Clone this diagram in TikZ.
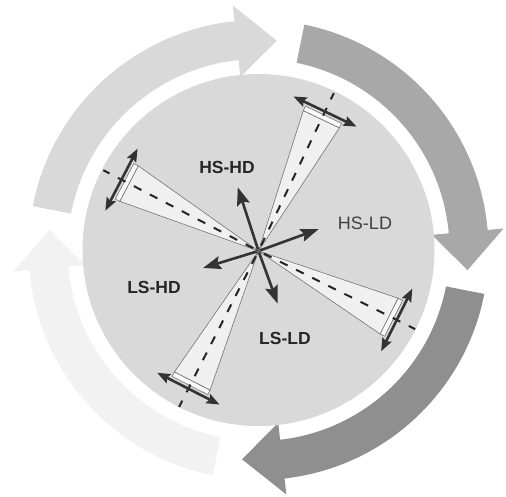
\documentclass[tikz,border=0pt]{standalone}
\usepackage{fontspec}
\setmainfont{Liberation Sans}
\usetikzlibrary{arrows.meta,calc}
\begin{document}
\begin{tikzpicture}[x=1pt,y=1pt,
  cone/.style={fill=black!6, draw=black!55, line width=0.6pt},
  capstrip/.style={fill=black!2, draw=black!55, line width=0.6pt},
  axisdash/.style={draw=black!85, line width=2pt, dash pattern=on 8.5pt off 9.5pt},
  dblarrow/.style={draw=black!80, line width=2.6pt, {Stealth[length=13pt,width=10pt,inset=2pt]}-{Stealth[length=13pt,width=10pt,inset=2pt]}},
  vec/.style={draw=black!80, line width=2.6pt, -{Stealth[length=18pt,width=13pt,inset=3pt]}},
  lab/.style={font=\bfseries\fontsize{17.5}{20}\selectfont, text=black!85},
  labreg/.style={font=\fontsize{18}{20}\selectfont, text=black!75}
]
\useasboundingbox[fill=white] (-258.5,-247) rectangle (247.5,250);

% outer ring of four curved arrows (clockwise)
\foreach \ta/\ba/\pa/\col in {169/96/85/black!15, 78.5/5/-5.5/black!34, -11/-83.5/-94.5/black!44, -101.5/-175/-185.5/black!5}{
  \fill[\col] (\ta:230) arc[start angle=\ta, end angle=\ba, radius=230]
    -- (\ba:246) -- (\pa:210) -- (\ba:174) -- (\ba:191)
    arc[start angle=\ba, end angle=\ta, radius=191] -- cycle;
}

% central disk
\fill[black!15] (0,0) circle[radius=176];

\coordinate (O) at (0,-1);

% four cones with dashed axes and double arrows
\foreach \t in {64.5,152.5,243,333.5}{
  \begin{scope}[shift={(O)}, rotate=\t]
    \draw[cone] (0,0) -- (146,20) -- (146,-20) -- cycle;
    \draw[capstrip] (146,20) rectangle (151,-20);
    \draw[axisdash] (6,0) -- (175,0);
    \draw[dblarrow] (154.5,35) -- (154.5,-35);
  \end{scope}
}

% star of vectors
\foreach \a/\l in {20/64, 108/67, 197/58, 290/56}{
  \draw[vec] (O) -- ++(\a:\l);
}
\fill[black!60] (O) circle[radius=2];

% labels
\node[lab] (hshd) at (-31.5,83) {HS-HD};
\node[labreg] (hsld) at (106.5,27) {HS-LD};
\node[lab] (lshd) at (-104.5,-37) {LS-HD};
\node[lab] (lsld) at (26.5,-88) {LS-LD};
\end{tikzpicture}
\end{document}
